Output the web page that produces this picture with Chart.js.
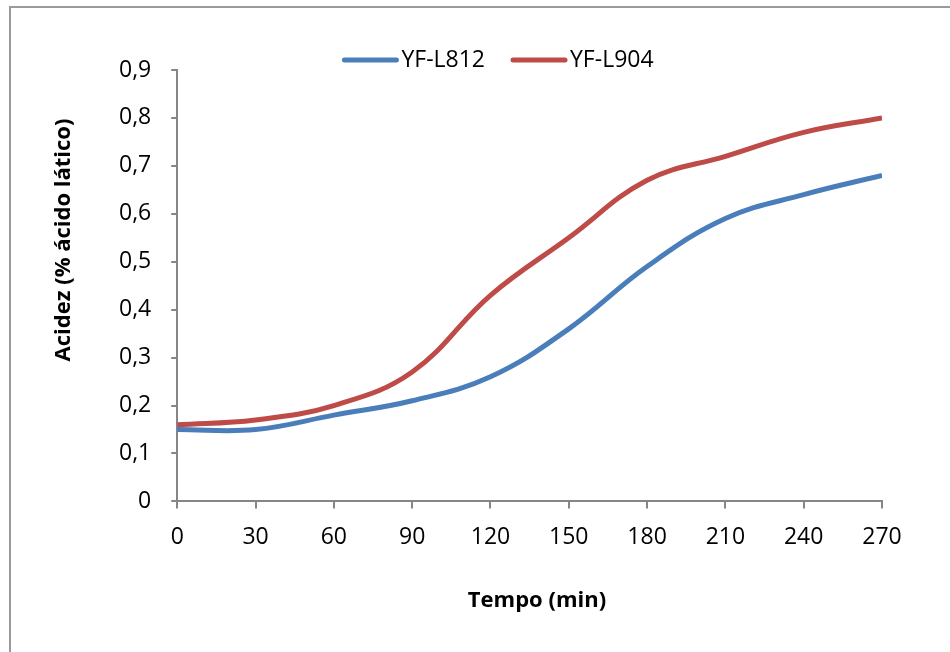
<!DOCTYPE html>
<html lang="pt">
<head>
    <meta charset="UTF-8">
    <title>Acidez - YF-L812 / YF-L904</title>
    <style>
        * { margin: 0; padding: 0; box-sizing: border-box; }
        body { background: #fff; width: 950px; height: 652px; overflow: hidden; }
        .frame { position: absolute; left: 9px; top: 6px; width: 1000px; height: 700px; border-left: 2px solid #9a9a9a; border-top: 2px solid #9a9a9a; }
        #wrap { position: absolute; left: 0; top: 0; width: 950px; height: 652px; }
    </style>
</head>
<body>
    <div class="frame"></div>
    <div id="wrap"><canvas id="chart"></canvas></div>

    <script src="https://cdn.jsdelivr.net/npm/chart.js@4.4.0/dist/chart.umd.min.js"></script>
    <script>
        // tempo (min)
        const tempo = [0, 30, 60, 90, 120, 150, 180, 210, 240, 270];
        // acidez (% acido latico)
        const yfL812 = [0.15, 0.15, 0.18, 0.21, 0.26, 0.36, 0.49, 0.59, 0.64, 0.68];
        const yfL904 = [0.16, 0.17, 0.20, 0.27, 0.43, 0.55, 0.67, 0.72, 0.77, 0.80];
        const seriesNames = ['YF-L812', 'YF-L904'];
        const xTicks = [0, 30, 60, 90, 120, 150, 180, 210, 240, 270];
        const yTicks = [0, 0.1, 0.2, 0.3, 0.4, 0.5, 0.6, 0.7, 0.8, 0.9];
        const xTitle = 'Tempo (min)';
        const yTitle = 'Acidez (% ácido lático)';

        const blue = '#4a7ebb';
        const red = '#be4b48';
        const axisGray = '#868686';
        const font = "'Open Sans', sans-serif";

        function toPoints(vals) {
            return tempo.map((t, i) => ({ x: t, y: vals[i] }));
        }

        // legend + axis titles drawn the way the spreadsheet places them
        const decorations = {
            id: 'decorations',
            afterDraw(chart) {
                const ctx = chart.ctx;
                ctx.save();
                ctx.fillStyle = '#000';
                ctx.textBaseline = 'middle';

                // legend
                ctx.font = `23px ${font}`;
                const lineW = 56, gapText = 3, gapItem = 26, legY = 60;
                const items = chart.data.datasets.map(ds => ({ ds, w: lineW + gapText + ctx.measureText(ds.label).width }));
                const total = items.reduce((s, it) => s + it.w, 0) + gapItem * (items.length - 1);
                let x = 498 - total / 2;
                items.forEach(it => {
                    ctx.strokeStyle = it.ds.borderColor;
                    ctx.lineWidth = 5;
                    ctx.lineCap = 'round';
                    ctx.beginPath();
                    ctx.moveTo(x + 2, legY);
                    ctx.lineTo(x + lineW - 2, legY);
                    ctx.stroke();
                    ctx.textAlign = 'left';
                    ctx.fillText(it.ds.label, x + lineW + gapText, legY);
                    x += it.w + gapItem;
                });

                // x title
                ctx.font = `bold 22px ${font}`;
                ctx.textAlign = 'center';
                ctx.fillText(xTitle, 537, 601);

                // y title
                ctx.font = `bold 22px ${font}`;
                ctx.translate(64, 240);
                ctx.rotate(-Math.PI / 2);
                ctx.fillText(yTitle, 0, 0);
                ctx.restore();
            }
        };

        new Chart(document.getElementById('chart'), {
            type: 'line',
            data: {
                datasets: [
                    { label: seriesNames[0], data: toPoints(yfL812), borderColor: blue, backgroundColor: blue, borderWidth: 5, pointRadius: 0, tension: 0.4 },
                    { label: seriesNames[1], data: toPoints(yfL904), borderColor: red, backgroundColor: red, borderWidth: 5, pointRadius: 0, tension: 0.4 }
                ]
            },
            options: {
                responsive: true,
                maintainAspectRatio: false,
                animation: false,
                layout: { padding: { left: 99, right: 68, top: 70, bottom: 86 } },
                plugins: {
                    legend: { display: false },
                    tooltip: { enabled: false }
                },
                scales: {
                    x: {
                        type: 'linear',
                        min: 0, max: 270,
                        afterBuildTicks: axis => { axis.ticks = xTicks.map(v => ({ value: v })); },
                        border: { color: axisGray, width: 2 },
                        grid: { drawOnChartArea: false, drawTicks: true, tickLength: 7, color: axisGray, lineWidth: 2 },
                        ticks: { color: '#000', font: { family: font, size: 23 }, padding: 15, maxRotation: 0 }
                    },
                    y: {
                        min: 0, max: 0.9,
                        afterBuildTicks: axis => { axis.ticks = yTicks.map(v => ({ value: v })); },
                        border: { color: axisGray, width: 2 },
                        grid: { drawOnChartArea: false, drawTicks: true, tickLength: 6, color: axisGray, lineWidth: 2 },
                        ticks: {
                            color: '#000', font: { family: font, size: 23 }, padding: 20,
                            callback: v => String(Math.round(v * 10) / 10).replace('.', ',')
                        }
                    }
                }
            },
            plugins: [decorations]
        });
    </script>
</body>
</html>
